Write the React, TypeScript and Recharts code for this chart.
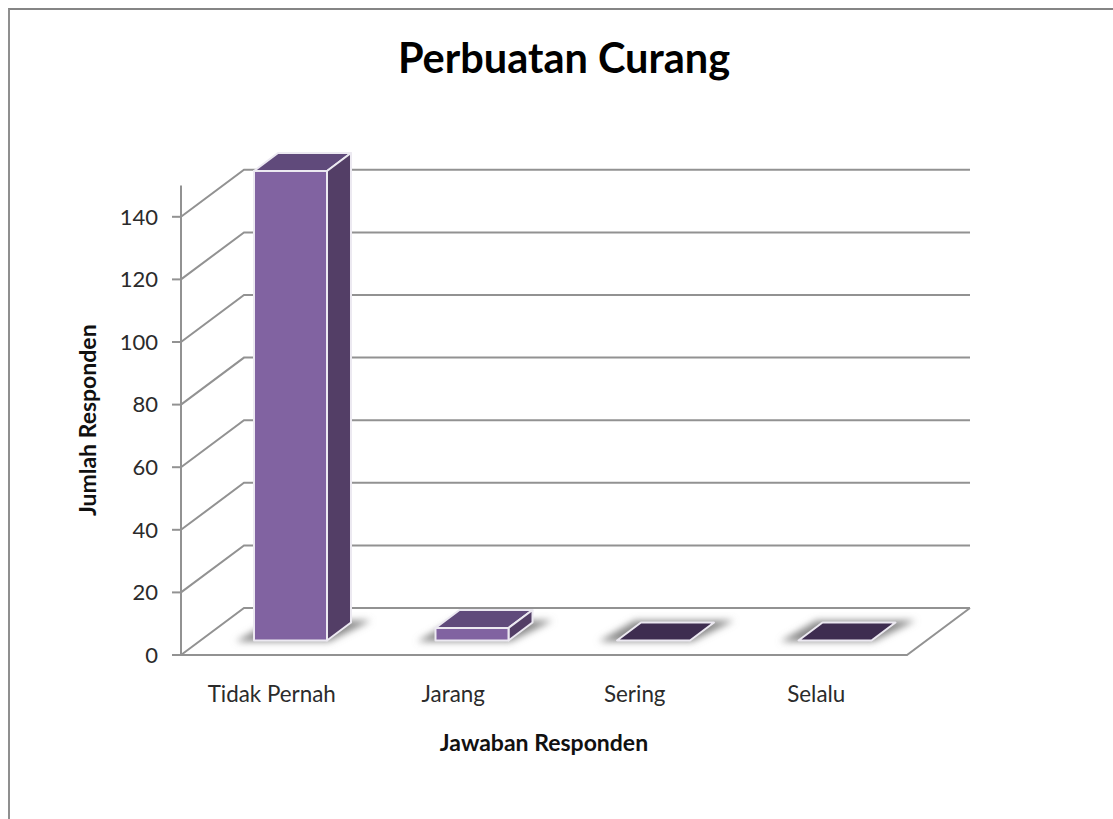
import React from 'react';
import { BarChart, Bar, XAxis, YAxis, CartesianGrid } from 'recharts';

const categories = ['Tidak Pernah', 'Jarang', 'Sering', 'Selalu'];
const responden = [150, 4, 0, 0];
const yTicks = [0, 20, 40, 60, 80, 100, 120, 140];

const data = categories.map((name, i) => ({ name, value: responden[i] }));

const FONT = 'Lato, sans-serif';
const LINE = '#929292';
const TEXT = '#2b2b2b';

// depth of the floor / back wall, and how far into it the bars sit
const WALL_DX = 63;
const WALL_DY = 47;
const BAR_DX = 19;
const BAR_DY = 14.5;
const BOX_DX = 24;
const BOX_DY = 18;

const GridLine = (props: any) => {
    const { x1, x2, y1, key } = props;
    const isFloor = y1 > 650;
    return (
        <g key={key ?? y1}>
            <polyline
                points={`${x1},${y1} ${x1 + WALL_DX},${y1 - WALL_DY} ${x2 + WALL_DX},${y1 - WALL_DY}`}
                fill="none"
                stroke={LINE}
                strokeWidth={2}
            />
            {isFloor && (
                <polyline
                    points={`${x1},${y1} ${x2},${y1} ${x2 + WALL_DX},${y1 - WALL_DY}`}
                    fill="none"
                    stroke={LINE}
                    strokeWidth={2}
                />
            )}
        </g>
    );
};

const Box = (props: any) => {
    const { x, y, width, height } = props;
    const left = x + BAR_DX;
    const right = left + width;
    const top = y - BAR_DY;
    const bottom = top + height;
    const edge = { stroke: '#ece9f1', strokeWidth: 2, strokeLinejoin: 'round' as const };
    const shadow = `${left - 18},${bottom + 1} ${right + 2},${bottom + 1} ${right + BOX_DX + 20},${bottom - BOX_DY - 2} ${left + BOX_DX - 6},${bottom - BOX_DY - 2}`;
    return (
        <g>
            <polygon points={shadow} fill="#8a8a8a" filter="url(#floorShadow)" />
            {height < 1 ? (
                <polygon
                    points={`${left},${bottom} ${right},${bottom} ${right + BOX_DX},${bottom - BOX_DY} ${left + BOX_DX},${bottom - BOX_DY}`}
                    fill="#3e2d50"
                    {...edge}
                />
            ) : (
                <>
                    <polygon
                        points={`${left},${top} ${right},${top} ${right + BOX_DX},${top - BOX_DY} ${left + BOX_DX},${top - BOX_DY}`}
                        fill="#604a7b"
                        {...edge}
                    />
                    <polygon
                        points={`${right},${top} ${right + BOX_DX},${top - BOX_DY} ${right + BOX_DX},${bottom - BOX_DY} ${right},${bottom}`}
                        fill="#533e66"
                        {...edge}
                    />
                    <rect x={left} y={top} width={width} height={height} fill="#8163a1" {...edge} />
                </>
            )}
        </g>
    );
};

const App = () => {
    return (
        <div style={{ position: 'fixed', left: 0, top: 0, width: 1113, height: 819, overflow: 'hidden', background: '#fff' }}>
            <div
                style={{
                    position: 'absolute',
                    left: 8,
                    top: 8,
                    width: 1300,
                    height: 1000,
                    borderLeft: '2px solid #8f8f8f',
                    borderTop: '2px solid #858585',
                }}
            />
            <div style={{ position: 'absolute', left: 0, top: 0 }}>
                <BarChart
                    width={1113}
                    height={819}
                    data={data}
                    margin={{ top: 185.5, right: 206, bottom: 104, left: 101 }}
                >
                    <defs>
                        <filter id="floorShadow" x="-30%" y="-60%" width="160%" height="220%">
                            <feGaussianBlur stdDeviation="3.5" />
                        </filter>
                    </defs>
                    <text x={564} y={73} textAnchor="middle" fontFamily={FONT} fontWeight={700} fontSize={41.5} fill="#000">
                        Perbuatan Curang
                    </text>
                    <CartesianGrid vertical={false} horizontal={GridLine} syncWithTicks />
                    <XAxis
                        dataKey="name"
                        height={60}
                        interval={0}
                        tickLine={false}
                        axisLine={{ stroke: LINE, strokeWidth: 2 }}
                        tick={{ fontFamily: FONT, fontSize: 22.4, fill: TEXT }}
                        tickMargin={25}
                        label={{
                            value: 'Jawaban Responden',
                            position: 'insideBottom',
                            offset: -36,
                            style: { fontFamily: FONT, fontSize: 23, fontWeight: 700, fill: '#111' },
                        }}
                    />
                    <YAxis
                        width={80}
                        domain={[0, 150]}
                        ticks={yTicks}
                        interval={0}
                        tickSize={9}
                        tickMargin={14}
                        tickLine={{ stroke: LINE, strokeWidth: 2 }}
                        axisLine={{ stroke: LINE, strokeWidth: 2 }}
                        tick={{ fontFamily: FONT, fontSize: 22, fill: TEXT }}
                        label={{
                            value: 'Jumlah Responden',
                            angle: -90,
                            position: 'insideLeft',
                            offset: -13,
                            style: { fontFamily: FONT, fontSize: 23, fontWeight: 700, fill: '#111', textAnchor: 'middle' },
                        }}
                    />
                    <Bar dataKey="value" barSize={73} shape={Box} isAnimationActive={false} />
                </BarChart>
            </div>
        </div>
    );
};

export default App;
